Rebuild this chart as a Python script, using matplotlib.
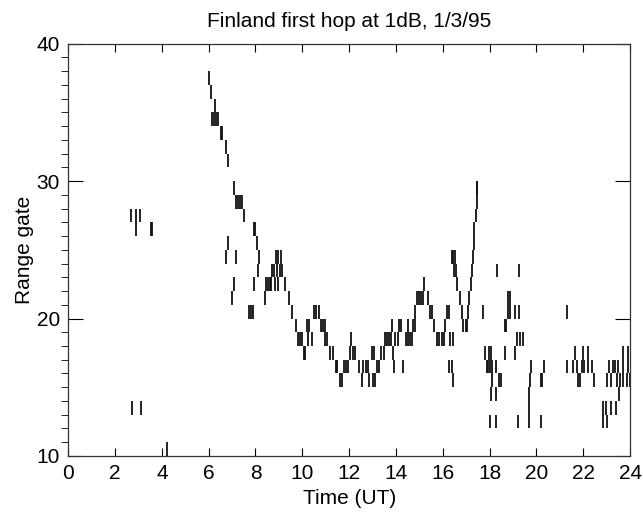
import matplotlib
matplotlib.use("Agg")
import matplotlib.pyplot as plt
import numpy as np

# echoes before sunrise (time UT, range gate)
early_t = [2.70, 2.88, 3.05, 2.90, 3.52, 3.57, 2.72, 3.10, 4.20]
early_g = [27, 27, 27, 26, 26, 26, 13, 13, 10]

# morning descent 6-10 UT
desc_t = [6.02, 6.09, 6.28, 6.15, 6.22, 6.30, 6.38, 6.52, 6.58, 6.75, 6.82,
          7.09, 7.16, 7.25, 7.33, 7.42, 7.52, 7.93, 7.98, 8.06,
          6.83, 6.75, 7.16, 8.17, 8.12,
          8.88, 8.97, 9.08, 8.70, 8.80, 8.92, 9.05, 9.15,
          7.09, 7.00, 7.95, 8.45, 8.52, 8.60, 8.68, 8.85, 8.95, 9.28,
          8.40, 9.42, 7.73, 7.80, 7.88, 9.58, 9.72, 9.82, 9.90, 9.98]
desc_g = [37, 36, 35, 34, 34, 34, 34, 33, 33, 32, 31,
          29, 28, 28, 28, 28, 27, 26, 26, 25,
          25, 24, 24, 24, 23,
          24, 24, 24, 23, 23, 23, 23, 23,
          22, 21, 22, 22, 22, 22, 22, 22, 22, 22,
          21, 21, 20, 20, 20, 20, 19, 18, 18, 18]

# midday trough 10-14 UT
mid_t = [10.08, 10.13, 10.20, 10.30, 10.25, 10.42, 10.50, 10.60, 10.70,
         10.80, 10.87, 10.98, 11.05, 10.98, 11.20, 11.30, 11.45, 11.50,
         11.63, 11.70, 11.80, 11.88, 11.97, 12.05, 12.15, 12.25, 12.10,
         12.43, 12.55, 12.60, 12.70, 12.80, 12.85, 12.97, 13.08, 13.00,
         13.10, 13.18, 13.28, 13.37, 13.48, 13.55, 13.62, 13.70, 13.78,
         13.82, 13.89, 13.90]
mid_g = [17, 17, 19, 19, 18, 18, 20, 20, 20,
         19, 19, 19, 18, 18, 17, 17, 16, 16,
         15, 15, 16, 16, 16, 17, 17, 17, 18,
         16, 15, 16, 16, 16, 15, 17, 17, 15,
         15, 16, 16, 17, 17, 18, 18, 18, 18,
         19, 17, 16]

# afternoon rise 14-17.5 UT
rise_t = [13.97, 14.08, 14.15, 14.22, 14.32, 14.43, 14.53, 14.50, 14.60,
          14.67, 14.72, 14.80, 14.82, 14.90, 15.00, 15.08, 15.17, 15.20,
          15.35, 15.45, 15.55, 15.63, 15.75, 15.85, 15.95, 16.05, 16.10,
          16.20, 16.25, 16.30, 16.42, 16.25, 16.40, 16.43, 16.38, 16.45,
          16.52, 16.48, 16.55, 16.62, 16.72, 16.80, 16.88, 16.97, 17.05,
          17.08, 17.12, 17.20, 17.25, 17.28, 17.32, 17.35, 17.40, 17.45,
          17.45, 17.48]
rise_g = [18, 18, 19, 19, 16, 18, 18, 19, 18,
          18, 19, 19, 20, 21, 21, 21, 21, 22,
          21, 20, 20, 19, 18, 18, 18, 18, 19,
          20, 20, 18, 18, 16, 16, 15, 24, 24,
          24, 23, 23, 22, 21, 20, 19, 19, 19,
          20, 21, 22, 23, 24, 25, 26, 27, 28,
          29, 29]

# evening and night 17.5-24 UT
late_t = [18.33, 19.27, 18.80, 18.85, 17.73, 18.80, 18.85, 19.10, 19.25, 21.32,
          18.65, 18.70, 19.15, 19.30, 19.42,
          17.80, 17.98, 18.05, 18.65, 19.10, 21.65, 22.00, 22.20, 23.70, 23.90,
          17.90, 17.95, 18.00, 18.12, 18.27, 19.75, 20.30, 21.32, 21.58, 21.72,
          21.93, 22.03, 22.20, 22.35, 23.10, 23.25, 23.35, 23.50, 23.70, 23.90,
          18.10, 18.42, 18.47, 19.73, 20.18, 20.22, 21.77, 21.86, 22.45, 23.00,
          23.20, 23.42, 23.57, 23.70, 23.85, 23.98,
          18.07, 18.29, 19.70, 23.54,
          19.68, 22.83, 22.98, 23.18, 23.41,
          18.00, 18.29, 19.21, 19.66, 20.18, 22.83, 23.00]
late_g = [23, 23, 21, 21, 20, 20, 20, 20, 20, 20,
          19, 19, 18, 18, 18,
          17, 17, 17, 17, 17, 17, 17, 17, 17, 17,
          16, 16, 16, 16, 16, 16, 16, 16, 16, 16,
          16, 16, 16, 16, 16, 16, 16, 16, 16, 16,
          15, 15, 15, 15, 15, 15, 15, 15, 15, 15,
          15, 15, 15, 15, 15, 15,
          14, 14, 14, 14,
          13, 13, 13, 13, 13,
          12, 12, 12, 12, 12, 12, 12]

plt.rcParams['font.family'] = ['Liberation Sans', 'DejaVu Sans']

fig = plt.figure(figsize=(6.43, 5.14), dpi=100)
ax = fig.add_axes([0.106, 0.113, 0.874, 0.802])

for tt, gg in [(early_t, early_g), (desc_t, desc_g), (mid_t, mid_g),
               (rise_t, rise_g), (late_t, late_g)]:
    gg = np.array(gg)
    ax.vlines(tt, gg, gg + 1, colors='#111111', linewidth=1.3)

ax.set_xlim(0, 24)
ax.set_ylim(10, 40)
ax.set_xticks(range(0, 25, 2))
ax.set_yticks([10, 20, 30, 40])
ax.set_yticks(range(10, 41), minor=True)
ax.tick_params(direction='in', top=True, right=True, labelsize=15, pad=6)
ax.tick_params(axis='x', which='major', length=6)
ax.tick_params(axis='y', which='major', length=11)
ax.tick_params(axis='y', which='minor', length=5)
for s in ax.spines.values():
    s.set_linewidth(0.9)
    s.set_color('#333333')

ax.set_title('Finland first hop at 1dB, 1/3/95', fontsize=15, pad=12)
ax.set_xlabel('Time (UT)', fontsize=15, labelpad=4)
ax.set_ylabel('Range gate', fontsize=15, labelpad=2)

fig.savefig('out.png', dpi=100)
